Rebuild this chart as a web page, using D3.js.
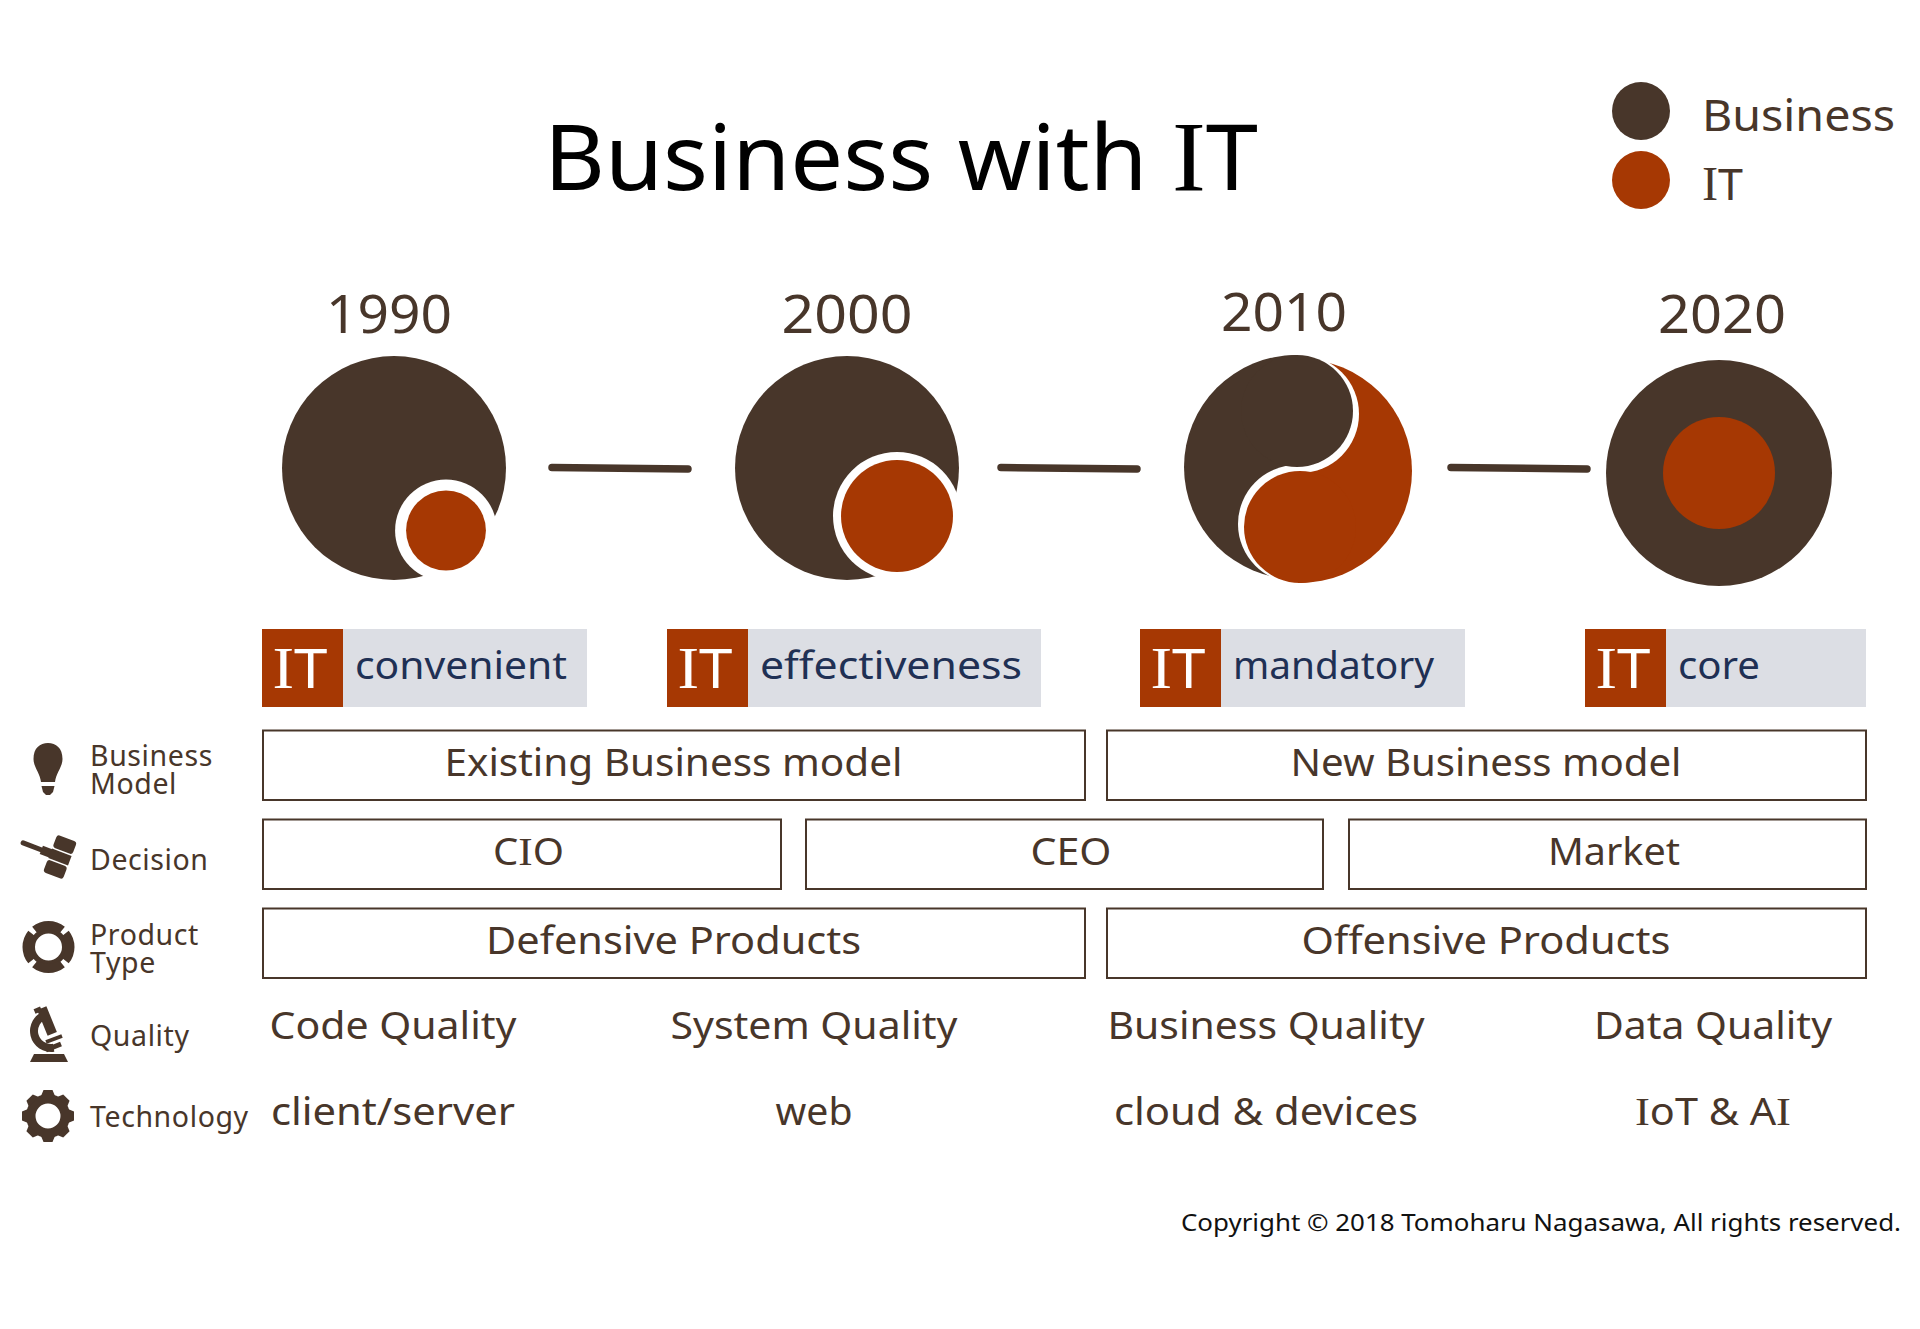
<!DOCTYPE html>
<html>
<head>
<meta charset="utf-8">
<script src="https://cdn.jsdelivr.net/npm/d3@7"></script>
<style>
  html, body { margin: 0; padding: 0; background: #fff; }
  text { font-family: "Noto Sans", sans-serif; }
</style>
</head>
<body>
<svg id="chart" width="1920" height="1329"></svg>
<script>
const years = ["1990", "2000", "2010", "2020"];
const itShare = [0.127, 0.25, 0.25, 0.25];
const itRoles = ["convenient", "effectiveness", "mandatory", "core"];
const legendItems = ["Business", "IT"];
const businessModels = ["Existing Business model", "New Business model"];
const decisions = ["CIO", "CEO", "Market"];
const productTypes = ["Defensive Products", "Offensive Products"];
const qualities = ["Code Quality", "System Quality", "Business Quality", "Data Quality"];
const technologies = ["client/server", "web", "cloud & devices", "IoT & AI"];
const rowIcons = ["bulb", "gavel", "shield", "scope", "gear"];
const rowLabels = [["Business", "Model"], ["Decision"], ["Product", "Type"], ["Quality"], ["Technology"]];

const BROWN = "#48362a", ORANGE = "#a63803", GREY = "#dcdee4", NAVY = "#1f3054";

/*** scales ***/
const eraX = d3.scaleOrdinal().domain(years).range([394, 847, 1298, 1719]);
const eraY = d3.scaleOrdinal().domain(years).range([468, 468, 469, 473]);
const yearX = d3.scaleOrdinal().domain(years).range([389, 847, 1284, 1722]);
const yearBase = d3.scaleOrdinal().domain(years).range([333, 333, 331, 333]);
const rScale = d3.scaleSqrt().domain([0, 1]).range([0, 112]);
const pillLeft = d3.scaleOrdinal().domain(itRoles).range([262, 667, 1140, 1585]);
const pillRight = d3.scaleOrdinal().domain(itRoles).range([587, 1041, 1465, 1866]);
const twoCol = d3.scaleOrdinal().domain([0, 1]).range([[262, 1085], [1106, 1866]]);
const threeCol = d3.scaleOrdinal().domain([0, 1, 2]).range([[262, 781], [805, 1323], [1348, 1866]]);
const rowTop = d3.scaleOrdinal().domain(["model", "decision", "product"]).range([730, 819, 908]);
const plainX = d3.scaleOrdinal().domain([0, 1, 2, 3]).range([393, 814, 1266, 1713]);

// text widths as measured on the reference, its font is wider than the local one
const widths = new Map([
    ["Business with IT", 714], ["convenient", 212], ["effectiveness", 262], ["mandatory", 201], ["core", 82],
    ["Existing Business model", 458], ["New Business model", 391], ["CIO", 71], ["CEO", 81], ["Market", 132],
    ["Defensive Products", 375], ["Offensive Products", 369], ["Code Quality", 247], ["System Quality", 287],
    ["Business Quality", 317], ["Data Quality", 238], ["client/server", 244], ["web", 77],
    ["cloud & devices", 304], ["IoT & AI", 156], ["1990", 126], ["2000", 131], ["2010", 126], ["2020", 128]
]);

const svg = d3.select("#chart");

// the reference draws capital I with slab serifs, Noto does not
const fillSpans = (t, str) => {
    str.split(/(I)/).filter(s => s.length).forEach(s => {
        const span = t.append("tspan").text(s);
        if (s === "I") span.style("font-family", "'Liberation Serif'").style("font-size", "1.08em");
    });
};

const addText = (parent, str, attrs, width) => {
    const t = parent.append("text");
    Object.keys(attrs).forEach(k => t.attr(k, attrs[k]));
    fillSpans(t, str);
    const w = width || widths.get(str);
    if (w) t.attr("textLength", w).attr("lengthAdjust", "spacingAndGlyphs");
    return t;
};

/*** title + legend ***/
addText(svg, "Business with IT", {x: 901, y: 190, "text-anchor": "middle", "font-size": 92, fill: "#000"});

legendItems.forEach((d, i) => {
    const y = d3.scaleOrdinal().domain(legendItems).range([111, 180])(d);
    svg.append("circle").attr("cx", 1641).attr("cy", y).attr("r", 29).attr("fill", i ? ORANGE : BROWN);
    addText(svg, d, {x: 1702, y: y + 20, "font-size": 44, fill: BROWN}, i ? 41 : 193);
});

/*** timeline ***/
const defs = svg.append("defs");
years.forEach((yr, i) => {
    const cx = eraX(yr), cy = eraY(yr);
    addText(svg, yr, {x: yearX(yr), y: yearBase(yr), "text-anchor": "middle", "font-size": 53, fill: BROWN});

    const itR = rScale(itShare[i]);
    if (i < 2) {
        // IT grows out of the lower right of the business
        const off = i === 0 ? [52, 62.5] : [50, 48];
        const gap = i === 0 ? 11 : 8;
        svg.append("circle").attr("cx", cx).attr("cy", cy).attr("r", 112).attr("fill", BROWN);
        svg.append("circle").attr("cx", cx + off[0]).attr("cy", cy + off[1]).attr("r", itR + gap).attr("fill", "#fff");
        svg.append("circle").attr("cx", cx + off[0]).attr("cy", cy + off[1]).attr("r", itR).attr("fill", ORANGE);
    } else if (i === 2) {
        // swirl: half discs, then a small bulge of each colour with a white crescent over the other one
        defs.append("clipPath").attr("id", "half-left").append("rect")
            .attr("x", cx - 150).attr("y", cy - 150).attr("width", 150).attr("height", 300);
        defs.append("clipPath").attr("id", "half-right").append("rect")
            .attr("x", cx).attr("y", cy - 150).attr("width", 150).attr("height", 300);
        const up = [cx - 1, cy - 58], low = [cx + 2, cy + 58];
        svg.append("circle").attr("cx", cx - 2).attr("cy", cy - 2).attr("r", 112).attr("fill", BROWN).attr("clip-path", "url(#half-left)");
        svg.append("circle").attr("cx", cx + 2).attr("cy", cy + 2).attr("r", 112).attr("fill", ORANGE).attr("clip-path", "url(#half-right)");
        svg.append("circle").attr("cx", up[0] + 3).attr("cy", up[1] + 3).attr("r", itR + 3).attr("fill", "#fff").attr("clip-path", "url(#half-right)");
        svg.append("circle").attr("cx", low[0] - 3).attr("cy", low[1] - 3).attr("r", itR + 3).attr("fill", "#fff").attr("clip-path", "url(#half-left)");
        svg.append("circle").attr("cx", up[0]).attr("cy", up[1]).attr("r", itR).attr("fill", BROWN);
        svg.append("circle").attr("cx", low[0]).attr("cy", low[1]).attr("r", itR).attr("fill", ORANGE);
    } else {
        svg.append("circle").attr("cx", cx).attr("cy", cy).attr("r", 113).attr("fill", BROWN);
        svg.append("circle").attr("cx", cx).attr("cy", cy).attr("r", itR).attr("fill", ORANGE);
    }

    // connector to the next era
    if (i < years.length - 1) {
        const x0 = d3.scaleOrdinal().domain(years).range([552, 1001, 1451])(yr);
        svg.append("line").attr("x1", x0).attr("x2", x0 + 136).attr("y1", 467.5).attr("y2", 469)
            .attr("stroke", BROWN).attr("stroke-width", 7.5).attr("stroke-linecap", "round");
    }
});

/*** IT pills ***/
itRoles.forEach(d => {
    const x0 = pillLeft(d), x1 = pillRight(d);
    svg.append("rect").attr("x", x0).attr("y", 629).attr("width", x1 - x0).attr("height", 78).attr("fill", GREY);
    svg.append("rect").attr("x", x0).attr("y", 629).attr("width", 81).attr("height", 78).attr("fill", ORANGE);
    addText(svg, "IT", {x: x0 + 38, y: 688, "text-anchor": "middle", "font-size": 55, fill: "#fff"}, 55);
    addText(svg, d, {x: x0 + 93, y: 679, "font-size": 38, fill: NAVY});
});

/*** boxed rows ***/
const boxRow = (items, top, col, shift) => {
    items.forEach((d, i) => {
        const [x0, x1] = col(i);
        svg.append("rect").attr("x", x0 + 1).attr("y", rowTop(top) + 0.5).attr("width", x1 - x0 - 1).attr("height", 69.5)
            .attr("fill", "#fff").attr("stroke", BROWN).attr("stroke-width", 2);
        addText(svg, d, {x: (x0 + x1) / 2 + shift, y: rowTop(top) + 46, "text-anchor": "middle", "font-size": 38, fill: BROWN});
    });
};
boxRow(businessModels, "model", twoCol, 0);
boxRow(decisions, "decision", threeCol, 7);
boxRow(productTypes, "product", twoCol, 0);

/*** plain rows ***/
qualities.forEach((d, i) => addText(svg, d, {x: plainX(i), y: 1039, "text-anchor": "middle", "font-size": 38, fill: BROWN}));
technologies.forEach((d, i) => addText(svg, d, {x: plainX(i), y: 1125, "text-anchor": "middle", "font-size": 38, fill: BROWN}));

/*** left labels ***/
const labelBase = d3.scaleOrdinal().domain(rowIcons).range([[766, 794], [870], [945, 973], [1046], [1127]]);
rowLabels.forEach((lines, i) => {
    const base = labelBase(rowIcons[i]);
    const t = svg.append("text").attr("font-size", 28.5).attr("letter-spacing", 0.6).attr("fill", BROWN);
    lines.forEach((l, k) => t.append("tspan").attr("x", 90).attr("y", base[k]).text(l));
});

/*** icons ***/
const icon = (x, y) => svg.append("g").attr("fill", BROWN).attr("transform", `translate(${x},${y})`);

const bulb = icon(48, 743);
bulb.append("path").attr("d", "M-14.5,16 C-14.5,5 -8,0 0,0 C8,0 14.5,5 14.5,16 C14.5,24 8,30 7,39 L-7,39 C-8,30 -14.5,24 -14.5,16Z");
bulb.append("path").attr("d", "M-6.5,43 L6.5,43 L5,49 L2,52 L-2,52 L-5,49Z");

const gavel = icon(60, 857).attr("transform", "translate(60,857) rotate(21)");
gavel.append("rect").attr("x", -42).attr("y", -2.5).attr("width", 34).attr("height", 5).attr("rx", 2.5);
gavel.append("rect").attr("x", -20).attr("y", -4.5).attr("width", 12).attr("height", 9);
gavel.append("rect").attr("x", -10.5).attr("y", -20).attr("width", 21).attr("height", 13.5).attr("rx", 3);
gavel.append("rect").attr("x", -10.5).attr("y", -5).attr("width", 21).attr("height", 10);
gavel.append("rect").attr("x", -10.5).attr("y", 6.5).attr("width", 21).attr("height", 13.5).attr("rx", 3);

const arc = d3.arc();
const shield = icon(48.5, 947);
shield.append("path").attr("d", arc({innerRadius: 13.5, outerRadius: 19, startAngle: 0, endAngle: 2 * Math.PI}));
d3.range(4).forEach(k => {
    const mid = k * Math.PI / 2;
    shield.append("path").attr("d", arc({innerRadius: 17, outerRadius: 26, startAngle: mid - 0.68, endAngle: mid + 0.68}));
});

const scope = icon(0, 0);
scope.append("path").attr("d", "M30,1062 L34,1054 L64,1054 L68,1062Z");
scope.append("path").attr("transform", "translate(51,1031)").attr("d", arc({innerRadius: 13, outerRadius: 21, startAngle: Math.PI * 0.95, endAngle: Math.PI * 1.9}));
scope.append("rect").attr("x", 42).attr("y", 1007).attr("width", 10).attr("height", 28).attr("transform", "rotate(-22 47 1021)");
scope.append("rect").attr("x", 39).attr("y", 1005).attr("width", 7).attr("height", 5).attr("transform", "rotate(-22 47 1021)");
scope.append("line").attr("x1", 46).attr("y1", 1042).attr("x2", 62).attr("y2", 1036).attr("stroke", BROWN).attr("stroke-width", 4);
scope.append("line").attr("x1", 46).attr("y1", 1050).attr("x2", 61).attr("y2", 1044).attr("stroke", BROWN).attr("stroke-width", 5);

const gear = icon(48, 1116);
gear.append("path").attr("d", arc({innerRadius: 12.5, outerRadius: 22, startAngle: 0, endAngle: 2 * Math.PI}));
d3.range(8).forEach(k => {
    gear.append("path").attr("transform", `rotate(${k * 45})`).attr("d", "M-7,-20 L-4.5,-26 L4.5,-26 L7,-20Z");
});

/*** footer ***/
svg.append("text").attr("x", 1181).attr("y", 1231).attr("font-size", 24).attr("fill", "#111")
    .attr("textLength", 720).attr("lengthAdjust", "spacingAndGlyphs")
    .text("Copyright © 2018 Tomoharu Nagasawa, All rights reserved.");
</script>
</body>
</html>
